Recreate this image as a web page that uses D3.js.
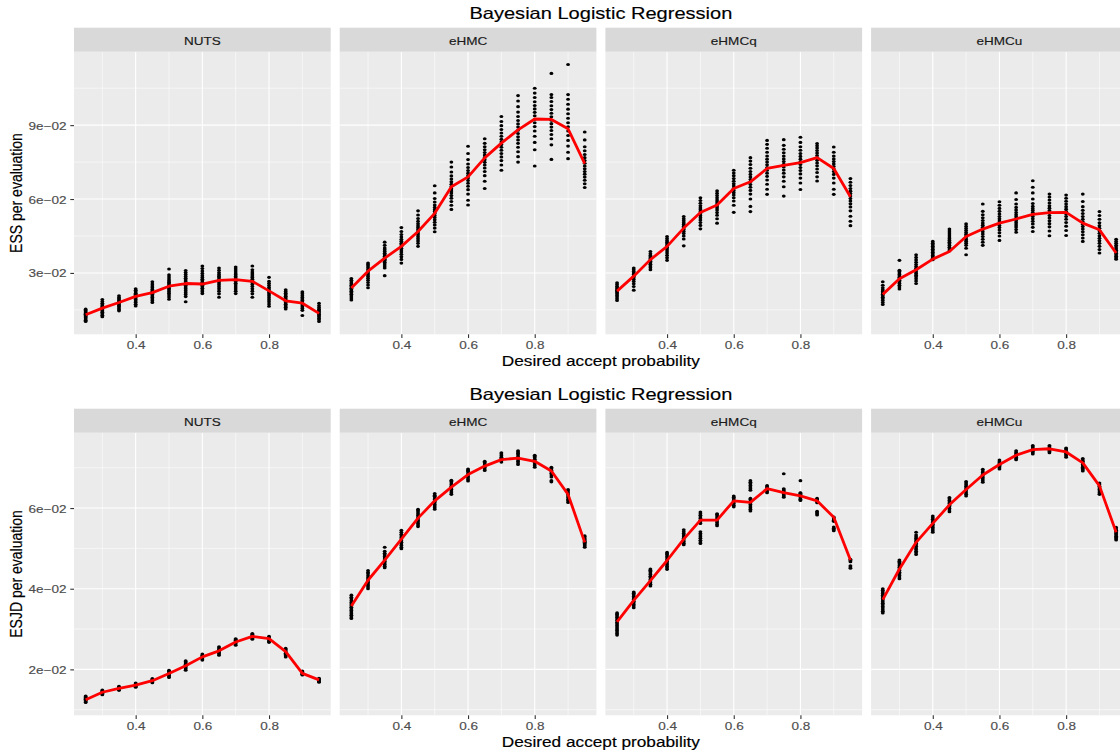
<!DOCTYPE html>
<html>
<head>
<meta charset="utf-8">
<script src="https://cdn.jsdelivr.net/npm/d3@7"></script>
<style>
  body { margin: 0; background: #fff; }
  text { font-family: "Liberation Sans", Arial, Helvetica, sans-serif; }
</style>
</head>
<body>
<svg id="fig" width="1120" height="755"></svg>
<script>
// ---------------------------------------------------------------
// Data: sampler efficiency vs. target acceptance probability
// ---------------------------------------------------------------
const methods = ["NUTS", "eHMC", "eHMCq", "eHMCu"];
const acceptProb = [0.25, 0.30, 0.35, 0.40, 0.45, 0.50, 0.55, 0.60, 0.65, 0.70, 0.75, 0.80, 0.85, 0.90, 0.95];

// ESS per evaluation, replicate runs at each acceptance probability
const essNUTS = [
  [.0103,.0108,.0113,.0118,.0122,.0126,.0129,.0132,.0135,.0138,.0142,.0147,.0153],
  [.0122,.0128,.0134,.0140,.0145,.0150,.0154,.0158,.0162,.0166,.0171,.0177,.0184,.0192],
  [.0146,.0152,.0158,.0164,.0169,.0174,.0178,.0182,.0186,.0190,.0195,.0200,.0207],
  [.0166,.0173,.0180,.0186,.0192,.0198,.0203,.0208,.0213,.0218,.0224,.0230,.0236],
  [.0180,.0187,.0194,.0200,.0206,.0212,.0217,.0222,.0227,.0233,.0240,.0247,.0255,.0264],
  [.0193,.0202,.0210,.0218,.0225,.0232,.0238,.0244,.0250,.0256,.0262,.0268,.0275,.0283,.0292,.0316],
  [.0183,.0204,.0212,.0220,.0228,.0236,.0243,.0250,.0257,.0264,.0271,.0278,.0286,.0294,.0302,.0310],
  [.0216,.0224,.0231,.0238,.0244,.0250,.0256,.0262,.0268,.0274,.0281,.0289,.0298,.0308,.0318,.0328],
  [.0201,.0215,.0226,.0236,.0244,.0252,.0259,.0266,.0273,.0280,.0287,.0294,.0302,.0311,.0320],
  [.0216,.0226,.0235,.0243,.0251,.0258,.0265,.0272,.0279,.0286,.0293,.0300,.0308,.0316,.0324],
  [.0201,.0215,.0226,.0236,.0245,.0253,.0260,.0267,.0274,.0281,.0288,.0296,.0304,.0313,.0328],
  [.0165,.0174,.0183,.0191,.0199,.0207,.0214,.0221,.0228,.0235,.0242,.0250,.0258,.0266,.0282],
  [.0154,.0161,.0167,.0173,.0179,.0184,.0189,.0194,.0199,.0205,.0211,.0218,.0225,.0232],
  [.0127,.0148,.0156,.0163,.0170,.0176,.0182,.0188,.0194,.0200,.0207,.0215,.0223],
  [.0103,.0110,.0116,.0122,.0127,.0132,.0137,.0142,.0147,.0153,.0160,.0168,.0177]
];
const essEHMC = [
  [.0190,.0198,.0206,.0213,.0220,.0226,.0232,.0238,.0244,.0250,.0256,.0263,.0270,.0277],
  [.0240,.0251,.0261,.0270,.0278,.0286,.0293,.0300,.0307,.0314,.0321,.0328,.0334,.0340],
  [.0289,.0320,.0328,.0336,.0343,.0350,.0356,.0362,.0368,.0374,.0380,.0387,.0394,.0401,.0412,.0425],
  [.0340,.0355,.0366,.0376,.0385,.0393,.0400,.0407,.0414,.0421,.0429,.0437,.0446,.0456,.0468,.0484],
  [.0408,.0420,.0430,.0439,.0447,.0455,.0462,.0469,.0476,.0483,.0491,.0500,.0510,.0521,.0535,.0552],
  [.0467,.0482,.0495,.0506,.0516,.0525,.0533,.0541,.0549,.0557,.0566,.0576,.0588,.0602,.0625,.0654],
  [.0558,.0575,.0590,.0603,.0614,.0624,.0633,.0642,.0651,.0660,.0670,.0681,.0694,.0710,.0730,.0750],
  [.0576,.0595,.0620,.0638,.0652,.0664,.0675,.0685,.0695,.0705,.0716,.0728,.0742,.0760,.0785,.0814],
  [.0643,.0672,.0695,.0712,.0726,.0738,.0749,.0759,.0769,.0779,.0789,.0800,.0812,.0826,.0845],
  [.0717,.0738,.0756,.0771,.0785,.0798,.0810,.0821,.0832,.0843,.0855,.0868,.0882,.0898,.0915,.0935],
  [.0750,.0772,.0792,.0810,.0826,.0840,.0853,.0866,.0879,.0892,.0905,.0919,.0935,.0953,.0975,.0998,.1020],
  [.0734,.0800,.0830,.0855,.0876,.0894,.0910,.0924,.0938,.0952,.0966,.0980,.0995,.1012,.1030,.1050],
  [.0761,.0820,.0845,.0862,.0878,.0892,.0906,.0920,.0934,.0948,.0963,.0979,.0996,.1012,.1024,.1110],
  [.0764,.0790,.0815,.0838,.0858,.0876,.0893,.0910,.0928,.0946,.0965,.0985,.1005,.1024,.1146],
  [.0647,.0662,.0676,.0689,.0701,.0712,.0723,.0734,.0745,.0756,.0768,.0781,.0796,.0812,.0840,.0872]
];
const essEHMCq = [
  [.0188,.0195,.0202,.0208,.0214,.0220,.0225,.0230,.0235,.0240,.0246,.0253,.0260],
  [.0230,.0245,.0256,.0265,.0273,.0280,.0287,.0294,.0300,.0306,.0313,.0320],
  [.0313,.0321,.0328,.0335,.0341,.0347,.0353,.0359,.0365,.0371,.0378,.0387],
  [.0351,.0362,.0372,.0381,.0389,.0397,.0404,.0411,.0418,.0425,.0432,.0440,.0448],
  [.0410,.0438,.0450,.0460,.0468,.0476,.0483,.0490,.0497,.0504,.0512,.0520,.0529],
  [.0479,.0493,.0505,.0515,.0524,.0532,.0540,.0548,.0556,.0564,.0573,.0583,.0594,.0605],
  [.0502,.0520,.0534,.0545,.0555,.0564,.0572,.0580,.0588,.0596,.0605,.0614,.0623,.0633],
  [.0546,.0575,.0592,.0605,.0616,.0626,.0635,.0644,.0653,.0662,.0672,.0683,.0695,.0706,.0717],
  [.0549,.0570,.0600,.0620,.0635,.0648,.0659,.0669,.0679,.0689,.0700,.0712,.0725,.0740,.0754,.0768],
  [.0619,.0640,.0660,.0677,.0692,.0705,.0717,.0728,.0739,.0750,.0762,.0775,.0790,.0806,.0822,.0838],
  [.0612,.0650,.0672,.0690,.0705,.0718,.0730,.0741,.0752,.0763,.0775,.0788,.0802,.0818,.0841],
  [.0639,.0665,.0685,.0702,.0716,.0728,.0740,.0751,.0762,.0773,.0785,.0798,.0812,.0830,.0851],
  [.0673,.0690,.0708,.0722,.0735,.0746,.0757,.0767,.0777,.0787,.0797,.0807,.0816,.0825],
  [.0619,.0640,.0665,.0685,.0700,.0712,.0722,.0732,.0742,.0752,.0763,.0775,.0790,.0811],
  [.0492,.0510,.0530,.0552,.0568,.0581,.0592,.0602,.0612,.0622,.0632,.0643,.0655,.0668,.0683]
];
const essEHMCu = [
  [.0172,.0180,.0188,.0195,.0201,.0207,.0213,.0219,.0225,.0232,.0240,.0250,.0264],
  [.0235,.0243,.0250,.0257,.0264,.0270,.0276,.0282,.0288,.0294,.0300,.0306,.0311,.0351],
  [.0257,.0267,.0276,.0284,.0291,.0298,.0305,.0312,.0319,.0326,.0334,.0343,.0353,.0363,.0374],
  [.0354,.0360,.0366,.0372,.0378,.0384,.0390,.0396,.0402,.0408,.0414,.0421,.0428],
  [.0390,.0397,.0404,.0411,.0418,.0425,.0432,.0439,.0446,.0454,.0462,.0470,.0478],
  [.0374,.0400,.0412,.0421,.0429,.0436,.0443,.0450,.0457,.0464,.0472,.0480,.0489,.0499],
  [.0412,.0425,.0437,.0448,.0458,.0467,.0476,.0485,.0494,.0503,.0513,.0524,.0536,.0550,.0580],
  [.0432,.0450,.0463,.0474,.0484,.0493,.0502,.0511,.0520,.0529,.0539,.0550,.0562,.0575,.0589],
  [.0465,.0476,.0486,.0495,.0504,.0512,.0520,.0528,.0536,.0545,.0555,.0566,.0580,.0598,.0625],
  [.0468,.0485,.0499,.0510,.0520,.0529,.0537,.0545,.0553,.0561,.0570,.0582,.0600,.0625,.0648,.0674],
  [.0451,.0470,.0487,.0500,.0512,.0523,.0533,.0543,.0553,.0563,.0573,.0584,.0596,.0608,.0620],
  [.0452,.0472,.0490,.0505,.0518,.0529,.0539,.0549,.0559,.0569,.0580,.0591,.0603,.0616],
  [.0428,.0442,.0455,.0467,.0478,.0488,.0498,.0508,.0518,.0529,.0541,.0554,.0569,.0590,.0620],
  [.0381,.0395,.0408,.0420,.0431,.0441,.0451,.0461,.0471,.0481,.0492,.0504,.0518,.0533,.0549],
  [.0356,.0362,.0368,.0374,.0380,.0386,.0392,.0398,.0405,.0412,.0420,.0428,.0437]
];

// Average ESS per evaluation across replicates
const essMeanNUTS  = [.0130,.0157,.0180,.0205,.0220,.0246,.0257,.0255,.0270,.0273,.0266,.0227,.0187,.0177,.0136];
const essMeanEHMC  = [.0239,.0307,.0360,.0408,.0468,.0542,.0650,.0690,.0767,.0827,.0881,.0925,.0923,.0885,.0744];
const essMeanEHMCq = [.0226,.0287,.0354,.0408,.0482,.0545,.0576,.0643,.0670,.0724,.0737,.0748,.0768,.0724,.0609];
const essMeanEHMCu = [.0213,.0276,.0313,.0356,.0387,.0448,.0478,.0502,.0519,.0538,.0545,.0546,.0502,.0475,.0381];

// ESJD per evaluation, replicate runs at each acceptance probability
const esjdNUTS = [
  [.0118,.0120,.0122,.0124,.0126,.0128,.0130,.0132,.0134],
  [.0137,.0139,.0141,.0143,.0145,.0147,.0149],
  [.0148,.0150,.0152,.0154,.0156,.0158],
  [.0156,.0158,.0160,.0162,.0164,.0166],
  [.0167,.0169,.0171,.0173,.0175,.0177],
  [.0180,.0182,.0185,.0188,.0191,.0194,.0196,.0198],
  [.0198,.0201,.0204,.0207,.0210,.0213,.0216,.0219,.0221],
  [.0223,.0226,.0229,.0232,.0235,.0238],
  [.0235,.0238,.0241,.0244,.0247,.0250,.0253,.0256],
  [.0260,.0263,.0266,.0269,.0272,.0274,.0276],
  [.0275,.0277,.0280,.0282,.0284,.0287,.0289],
  [.0267,.0270,.0273,.0276,.0279,.0282],
  [.0231,.0234,.0237,.0240,.0243,.0246,.0249,.0252],
  [.0186,.0188,.0190,.0192,.0194,.0196],
  [.0168,.0170,.0172,.0174,.0176,.0178]
];
const esjdEHMC = [
  [.0326,.0330,.0334,.0338,.0342,.0346,.0350,.0354,.0358,.0362,.0366,.0370,.0375,.0379,.0384],
  [.0400,.0404,.0408,.0412,.0416,.0420,.0424,.0428,.0432,.0437,.0441,.0445],
  [.0452,.0456,.0460,.0464,.0468,.0472,.0476,.0480,.0484,.0488,.0493,.0503],
  [.0499,.0503,.0507,.0511,.0515,.0519,.0523,.0527,.0531,.0535,.0540,.0545],
  [.0554,.0558,.0562,.0566,.0570,.0574,.0578,.0582,.0586,.0590,.0594,.0597],
  [.0597,.0601,.0605,.0609,.0613,.0617,.0621,.0625,.0629,.0632,.0636],
  [.0634,.0638,.0642,.0646,.0650,.0654,.0658,.0662,.0666,.0669],
  [.0667,.0671,.0675,.0679,.0683,.0687,.0691,.0694,.0697],
  [.0693,.0697,.0701,.0705,.0709,.0713,.0716],
  [.0714,.0717,.0720,.0723,.0726,.0730,.0734,.0737],
  [.0708,.0712,.0716,.0720,.0724,.0728,.0732,.0736,.0739,.0742],
  [.0701,.0705,.0709,.0713,.0717,.0721,.0725,.0728,.0731],
  [.0665,.0668,.0677,.0682,.0686,.0690,.0694,.0698,.0701],
  [.0614,.0618,.0622,.0626,.0630,.0634,.0638,.0642,.0646],
  [.0503,.0506,.0509,.0512,.0515,.0518,.0521,.0524,.0528,.0531]
];
const esjdEHMCq = [
  [.0285,.0289,.0293,.0297,.0301,.0305,.0309,.0313,.0317,.0321,.0325,.0329,.0333,.0337,.0340],
  [.0353,.0357,.0361,.0365,.0369,.0373,.0377,.0381,.0385,.0389,.0392],
  [.0407,.0411,.0415,.0419,.0423,.0427,.0431,.0435,.0439,.0443,.0446,.0449],
  [.0448,.0452,.0456,.0460,.0464,.0468,.0472,.0476,.0480,.0484,.0487,.0490],
  [.0509,.0513,.0517,.0521,.0525,.0529,.0533,.0537,.0541,.0546],
  [.0512,.0516,.0520,.0525,.0529,.0533,.0537,.0541,.0562,.0566,.0570,.0574,.0578,.0582,.0586,.0590],
  [.0556,.0560,.0564,.0568,.0572,.0576,.0580,.0584,.0586],
  [.0603,.0607,.0611,.0615,.0619,.0623,.0627,.0630],
  [.0593,.0597,.0601,.0605,.0609,.0613,.0617,.0621,.0624,.0644,.0648,.0652,.0656,.0660,.0664,.0668],
  [.0638,.0641,.0644,.0647,.0650,.0653,.0656],
  [.0627,.0630,.0633,.0636,.0639,.0642,.0645,.0648,.0685],
  [.0619,.0622,.0625,.0628,.0631,.0634,.0637,.0638,.0668],
  [.0583,.0586,.0589,.0592,.0613,.0616,.0619,.0622,.0624],
  [.0544,.0547,.0550,.0553,.0567,.0570,.0573,.0576,.0578],
  [.0451,.0454,.0457,.0467,.0470,.0473]
];
const esjdEHMCu = [
  [.0340,.0344,.0348,.0352,.0356,.0360,.0364,.0368,.0372,.0376,.0380,.0384,.0388,.0392,.0396,.0400],
  [.0425,.0429,.0433,.0437,.0441,.0445,.0449,.0453,.0457,.0461,.0465,.0468,.0471],
  [.0485,.0489,.0493,.0497,.0501,.0505,.0509,.0513,.0517,.0521,.0525,.0529,.0533,.0540],
  [.0540,.0544,.0548,.0552,.0556,.0560,.0564,.0568,.0572,.0576,.0580],
  [.0591,.0595,.0599,.0603,.0607,.0611,.0615,.0619,.0623,.0626],
  [.0630,.0634,.0638,.0642,.0646,.0650,.0654,.0658,.0662,.0666],
  [.0664,.0668,.0672,.0676,.0680,.0684,.0688,.0692,.0696],
  [.0697,.0700,.0703,.0706,.0709,.0712,.0715,.0719],
  [.0720,.0723,.0726,.0729,.0732,.0735,.0738,.0742],
  [.0734,.0737,.0740,.0743,.0746,.0749,.0752,.0755],
  [.0737,.0740,.0743,.0746,.0749,.0752,.0755],
  [.0726,.0729,.0732,.0735,.0738,.0741,.0744,.0747,.0749],
  [.0692,.0695,.0698,.0701,.0704,.0708,.0712,.0716,.0719,.0723],
  [.0634,.0638,.0642,.0646,.0650,.0654,.0658,.0662],
  [.0521,.0524,.0527,.0530,.0533,.0536,.0539,.0542,.0545,.0548,.0552]
];

// Average ESJD per evaluation across replicates
const esjdMeanNUTS  = [.01245,.01433,.0153,.0161,.0172,.0190,.0209,.0231,.0246,.0268,.0282,.0276,.0244,.0190,.0174];
const esjdMeanEHMC  = [.0357,.0421,.0471,.0523,.0575,.0618,.0652,.0683,.0704,.0720,.0724,.0716,.0692,.0634,.0515];
const esjdMeanEHMCq = [.0318,.0371,.0420,.0470,.0523,.0570,.0570,.0618,.0614,.0648,.0638,.0630,.0618,.0577,.0471];
const esjdMeanEHMCu = [.0373,.0449,.0515,.0562,.0608,.0646,.0682,.0708,.0731,.0745,.0747,.0739,.0712,.0655,.0540];

// Axis breaks and labels
const xBreaks = [0.4, 0.6, 0.8];
const xMinorBreaks = [0.3, 0.5, 0.7, 0.9];
const xTickLabels = ["0.4", "0.6", "0.8"];
const essBreaks = [0.03, 0.06, 0.09];
const essMinorBreaks = [0.015, 0.045, 0.075, 0.105];
const essTickLabels = ["3e\u221202", "6e\u221202", "9e\u221202"];
const esjdBreaks = [0.02, 0.04, 0.06];
const esjdMinorBreaks = [0.01, 0.03, 0.05, 0.07];
const esjdTickLabels = ["2e\u221202", "4e\u221202", "6e\u221202"];

const plotTitle = "Bayesian Logistic Regression";
const xTitle = "Desired accept probability";

// ---------------------------------------------------------------
// Layout and styling
// ---------------------------------------------------------------
const svg = d3.select("#fig");
const SX = 1.23;               // horizontal glyph stretch
const panelW = 256.7;
const panelStep = 265.7;
const firstPanelX = 74;
const stripH = 24;
const panelH = 282.6;
const rowOffset = 381;

const colors = {
  panel: "#EBEBEB", strip: "#D9D9D9", grid: "#FFFFFF",
  axisText: "#4D4D4D", tick: "#333333", stripText: "#1A1A1A",
  point: "#000000", line: "#FF0000"
};

const rows = [
  {
    yTitle: "ESS per evaluation",
    points: { NUTS: essNUTS, eHMC: essEHMC, eHMCq: essEHMCq, eHMCu: essEHMCu },
    means: { NUTS: essMeanNUTS, eHMC: essMeanEHMC, eHMCq: essMeanEHMCq, eHMCu: essMeanEHMCu },
    breaks: essBreaks, minor: essMinorBreaks, labels: essTickLabels
  },
  {
    yTitle: "ESJD per evaluation",
    points: { NUTS: esjdNUTS, eHMC: esjdEHMC, eHMCq: esjdEHMCq, eHMCu: esjdEHMCu },
    means: { NUTS: esjdMeanNUTS, eHMC: esjdMeanEHMC, eHMCq: esjdMeanEHMCq, eHMCu: esjdMeanEHMCu },
    breaks: esjdBreaks, minor: esjdMinorBreaks, labels: esjdTickLabels
  }
];

// ggplot-style continuous expansion (5% of range on each side)
function expand(ext) {
  const pad = 0.05 * (ext[1] - ext[0]);
  return [ext[0] - pad, ext[1] + pad];
}

// Text helper with horizontal stretch
function addText(g, str, x, y, opts = {}) {
  const rot = opts.rotate ? ` rotate(${opts.rotate})` : "";
  return g.append("text")
    .attr("transform", `translate(${x},${y}) scale(${SX},1)${rot}`)
    .attr("text-anchor", opts.anchor || "middle")
    .attr("font-size", opts.size || 11)
    .attr("fill", opts.fill || "#000")
    .attr("stroke", opts.fill || "#000")
    .attr("stroke-width", opts.weight || 0.15)
    .attr("dy", opts.dy || null)
    .text(str);
}

const xScaleBase = d3.scaleLinear().domain(expand(d3.extent(acceptProb)));
const plotRight = firstPanelX + panelStep * (methods.length - 1) + panelW;
const plotCenterX = (firstPanelX + plotRight) / 2;

rows.forEach((row, ri) => {
  const oy = ri * rowOffset;
  const stripTop = 27.7 + oy;
  const panelTop = stripTop + stripH;
  const panelBottom = panelTop + panelH;

  const allVals = methods.flatMap(m => row.points[m].flat());
  const y = d3.scaleLinear().domain(expand(d3.extent(allVals))).range([panelBottom, panelTop]);

  const g = svg.append("g");

  // title
  addText(g, plotTitle, plotCenterX, 19 + oy, { size: 16.3 });

  methods.forEach((m, mi) => {
    const left = firstPanelX + panelStep * mi;
    const x = xScaleBase.copy().range([left, left + panelW]);
    const pg = g.append("g");

    // panel background
    pg.append("rect").attr("x", left).attr("y", panelTop)
      .attr("width", panelW).attr("height", panelH).attr("fill", colors.panel);

    // minor grid
    pg.selectAll(".ymin").data(row.minor).join("line")
      .attr("x1", left).attr("x2", left + panelW)
      .attr("y1", d => y(d)).attr("y2", d => y(d))
      .attr("stroke", colors.grid).attr("stroke-width", 0.55);
    pg.selectAll(".xmin").data(xMinorBreaks).join("line")
      .attr("x1", d => x(d)).attr("x2", d => x(d))
      .attr("y1", panelTop).attr("y2", panelBottom)
      .attr("stroke", colors.grid).attr("stroke-width", 0.55);
    // major grid
    pg.selectAll(".ymaj").data(row.breaks).join("line")
      .attr("x1", left).attr("x2", left + panelW)
      .attr("y1", d => y(d)).attr("y2", d => y(d))
      .attr("stroke", colors.grid).attr("stroke-width", 1.1);
    pg.selectAll(".xmaj").data(xBreaks).join("line")
      .attr("x1", d => x(d)).attr("x2", d => x(d))
      .attr("y1", panelTop).attr("y2", panelBottom)
      .attr("stroke", colors.grid).attr("stroke-width", 1.1);

    // points (slightly wider than tall, like the stretched output)
    const pts = row.points[m].flatMap((vals, i) => vals.map(v => ({ p: acceptProb[i], v })));
    pg.selectAll("ellipse").data(pts).join("ellipse")
      .attr("cx", d => x(d.p)).attr("cy", d => y(d.v))
      .attr("rx", 1.9).attr("ry", 1.55).attr("fill", colors.point);

    // mean line
    const line = d3.line().x((d, i) => x(acceptProb[i])).y(d => y(d));
    pg.append("path").datum(row.means[m]).attr("d", line)
      .attr("fill", "none").attr("stroke", colors.line)
      .attr("stroke-width", 2.8).attr("stroke-linejoin", "round");

    // strip
    pg.append("rect").attr("x", left).attr("y", stripTop)
      .attr("width", panelW).attr("height", stripH).attr("fill", colors.strip);
    addText(pg, m, left + panelW / 2, stripTop + 17.3, { size: 11, fill: colors.stripText });

    // x axis ticks + labels
    const xAxis = d3.axisBottom(x).tickValues(xBreaks).tickSize(3.7).tickPadding(0)
      .tickFormat((d, i) => xTickLabels[i]);
    const xa = pg.append("g").attr("transform", `translate(0,${panelBottom})`).call(xAxis);
    xa.select(".domain").remove();
    xa.selectAll(".tick line").attr("stroke", colors.tick).attr("stroke-width", 1.1);
    xa.selectAll(".tick text").remove();
    xa.selectAll(".tick").each(function (d, i) {
      addText(d3.select(this), xTickLabels[i], 0, 15, { size: 11, fill: colors.axisText });
    });

    // y axis on first panel only
    if (mi === 0) {
      const yAxis = d3.axisLeft(y).tickValues(row.breaks).tickSize(3.7).tickPadding(0);
      const ya = pg.append("g").attr("transform", `translate(${left},0)`).call(yAxis);
      ya.select(".domain").remove();
      ya.selectAll(".tick line").attr("stroke", colors.tick).attr("stroke-width", 1.1);
      ya.selectAll(".tick text").remove();
      ya.selectAll(".tick").each(function (d, i) {
        addText(d3.select(this), row.labels[i], -7.5, 0,
          { size: 11, fill: colors.axisText, anchor: "end", dy: "0.36em" });
      });
      addText(g, row.yTitle, 22, (panelTop + panelBottom) / 2, { size: 14, rotate: -90 });
    }
  });

  // x axis title
  addText(g, xTitle, plotCenterX, 366 + oy, { size: 14 });
});
</script>
</body>
</html>
